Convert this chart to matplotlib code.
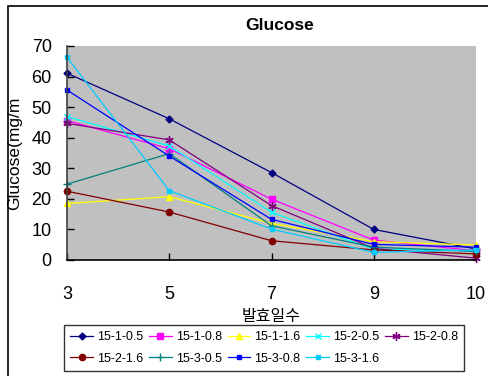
import matplotlib
matplotlib.use("Agg")
import matplotlib.pyplot as plt
from matplotlib.patches import Rectangle

plt.rcParams['font.family'] = ['Liberation Sans', 'Noto Sans CJK KR', 'DejaVu Sans']

days = ["3", "5", "7", "9", "10"]
yticks = [0, 10, 20, 30, 40, 50, 60, 70]

s_15_1_05 = [61.1, 46.2, 28.6, 10.0, 3.6]
s_15_1_08 = [45.6, 36.4, 19.9, 6.5, 3.0]
s_15_1_16 = [18.5, 20.7, 12.0, 6.0, 4.9]
s_15_2_05 = [46.9, 37.3, 15.6, 3.5, 3.0]
s_15_2_08 = [44.7, 39.3, 17.8, 3.8, 0.6]
s_15_2_16 = [22.5, 15.7, 6.3, 3.3, 2.0]
s_15_3_05 = [24.8, 34.8, 11.2, 4.2, 2.8]
s_15_3_08 = [55.6, 34.0, 13.3, 5.1, 4.2]
s_15_3_16 = [66.3, 22.7, 10.1, 2.5, 3.3]

series = [
    ("15-1-0.5", s_15_1_05, "#000080", "D", 3.5),
    ("15-1-0.8", s_15_1_08, "#FF00FF", "s", 4.5),
    ("15-1-1.6", s_15_1_16, "#FFFF00", "^", 5.0),
    ("15-2-0.5", s_15_2_05, "#00FFFF", "x", 4.5),
    ("15-2-0.8", s_15_2_08, "#800080", (6, 2, 0), 6.0),
    ("15-2-1.6", s_15_2_16, "#800000", "o", 4.5),
    ("15-3-0.5", s_15_3_05, "#008080", "+", 6.0),
    ("15-3-0.8", s_15_3_08, "#0000FF", "s", 3.0),
    ("15-3-1.6", s_15_3_16, "#00CCFF", "s", 3.5),
]

W, H = 488, 376
fig = plt.figure(figsize=(W / 100, H / 100), dpi=100)
fig.patch.set_facecolor("white")

# outer chart border
fig.patches.append(Rectangle((8 / W, -0.1), 1.0, 1 - 6 / H + 0.1,
                             transform=fig.transFigure, fill=False,
                             edgecolor="black", linewidth=1.2))

ax = fig.add_axes([67 / W, 1 - 260 / H, (476 - 67) / W, (260 - 46) / H])
ax.set_facecolor("#C0C0C0")

xpos = list(range(len(days)))
handles = []
for name, vals, color, marker, ms in series:
    ln, = ax.plot(xpos, vals, color=color, linewidth=0.9, marker=marker,
                  markersize=ms, markeredgewidth=1.0, markerfacecolor=color,
                  markeredgecolor=color, label=name, clip_on=False)
    handles.append(ln)

ax.set_xlim(0, len(days) - 1)
ax.set_ylim(0, 70)
ax.set_xticks(xpos)
ax.set_xticklabels(days)
ax.set_yticks(yticks)

for sp in ("top", "right"):
    ax.spines[sp].set_visible(False)
ax.spines["left"].set_color("#404040")
ax.spines["left"].set_linewidth(1.2)
ax.spines["bottom"].set_color("black")
ax.spines["bottom"].set_linewidth(1.2)

ax.tick_params(axis="x", direction="in", length=5, width=1, pad=19,
               labelsize=13, colors="black")
ax.tick_params(axis="y", direction="in", length=5, width=1, pad=11,
               labelsize=13, colors="black")

ax.set_xlabel("발효일수", fontsize=11.5, labelpad=3,
              family=['Noto Sans CJK KR', 'DejaVu Sans'])
ax.set_ylabel("Glucose(mg/m", fontsize=12.5, labelpad=4)
ax.yaxis.set_label_coords(-0.109, 0.5)

fig.text(280 / W, 1 - 25 / H, "Glucose", ha="center", va="center",
         fontsize=12.5, fontweight="semibold")

# legend fills row by row: reorder for matplotlib's column-wise layout
order = [0, 5, 1, 6, 2, 7, 3, 8, 4]
leg = fig.legend([handles[i] for i in order],
                 [series[i][0] for i in order],
                 loc="upper left", ncol=5,
                 bbox_to_anchor=(64 / W, 1 - 325 / H),
                 fontsize=9, frameon=True, fancybox=False,
                 edgecolor="black", handlelength=1.8, handletextpad=0.35,
                 columnspacing=0.45, borderaxespad=0.0, borderpad=0.5,
                 labelspacing=0.75)
leg.get_frame().set_linewidth(1.0)

fig.savefig("out.png", dpi=100, facecolor="white")
